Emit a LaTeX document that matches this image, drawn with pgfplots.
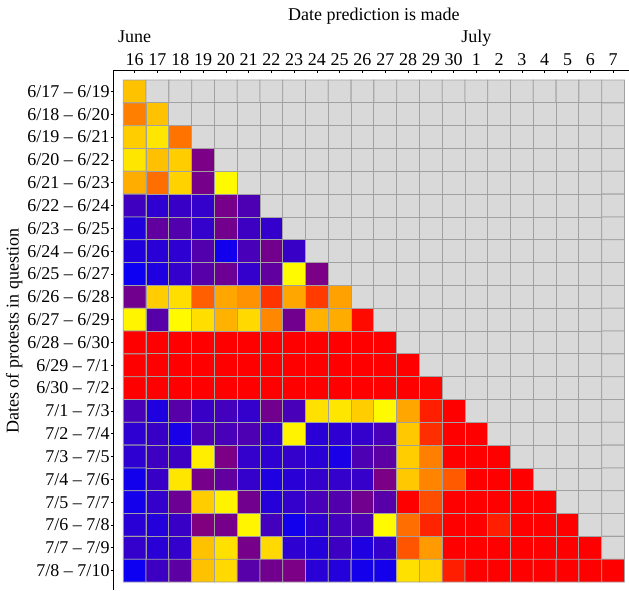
\documentclass[border=0pt]{standalone}
\usepackage{fontspec}
\setmainfont{Liberation Serif}
\usepackage{pgfplots}
\pgfplotsset{compat=1.18}
\begin{document}
\fontsize{18bp}{21bp}\selectfont
\begin{tikzpicture}
\begin{axis}[
  at={(0,0)}, anchor=south west,
  scale only axis, width=515.7bp, height=519.3bp,
  xmin=-0.94, xmax=21.7, ymin=-0.91, ymax=21.85,
  y dir=reverse,
  axis x line*=top, axis y line*=left,
  axis line style={-, line width=0.8bp, black},
  xtick={0,...,21},
  xticklabels={16,17,18,19,20,21,22,23,24,25,26,27,28,29,30,1,2,3,4,5,6,7},
  ytick={0,...,21},
  yticklabels={6/17 -- 6/19, 6/18 -- 6/20, 6/19 -- 6/21, 6/20 -- 6/22, 6/21 -- 6/23, 6/22 -- 6/24, 6/23 -- 6/25, 6/24 -- 6/26, 6/25 -- 6/27, 6/26 -- 6/28, 6/27 -- 6/29, 6/28 -- 6/30, 6/29 -- 7/1, 6/30 -- 7/2, 7/1 -- 7/3, 7/2 -- 7/4, 7/3 -- 7/5, 7/4 -- 7/6, 7/5 -- 7/7, 7/6 -- 7/8, 7/7 -- 7/9, 7/8 -- 7/10},
  tick align=inside, major tick length=2.5bp,
  tick style={black, line width=0.6bp},
  ytick style={xshift=-2.5bp},
  xticklabel style={anchor=base, inner sep=0pt, yshift=5.7bp},
  yticklabel style={anchor=east, inner sep=0pt, xshift=-3.6bp},
  clip=false,
  colormap={bry}{rgb255=(0,0,255) rgb255=(128,0,128) rgb255=(255,0,0) rgb255=(255,128,0) rgb255=(255,255,0) rgb255=(217,217,217)},
  point meta min=0, point meta max=2.5,
]
\addplot[matrix plot*, mesh/cols=22, point meta=explicit, draw=black!37, line width=0.8bp]
  table[row sep=\\, x expr={\coordindex-22*floor((\coordindex+0.5)/22)}, y expr={floor((\coordindex+0.5)/22)}, meta=c] {
c\\
1.76\\2.5\\2.5\\2.5\\2.5\\2.5\\2.5\\2.5\\2.5\\2.5\\2.5\\2.5\\2.5\\2.5\\2.5\\2.5\\2.5\\2.5\\2.5\\2.5\\2.5\\2.5\\
1.5\\1.76\\2.5\\2.5\\2.5\\2.5\\2.5\\2.5\\2.5\\2.5\\2.5\\2.5\\2.5\\2.5\\2.5\\2.5\\2.5\\2.5\\2.5\\2.5\\2.5\\2.5\\
1.8\\1.9\\1.45\\2.5\\2.5\\2.5\\2.5\\2.5\\2.5\\2.5\\2.5\\2.5\\2.5\\2.5\\2.5\\2.5\\2.5\\2.5\\2.5\\2.5\\2.5\\2.5\\
1.9\\1.75\\1.8\\0.48\\2.5\\2.5\\2.5\\2.5\\2.5\\2.5\\2.5\\2.5\\2.5\\2.5\\2.5\\2.5\\2.5\\2.5\\2.5\\2.5\\2.5\\2.5\\
1.68\\1.43\\1.82\\0.46\\1.98\\2.5\\2.5\\2.5\\2.5\\2.5\\2.5\\2.5\\2.5\\2.5\\2.5\\2.5\\2.5\\2.5\\2.5\\2.5\\2.5\\2.5\\
0.25\\0.18\\0.22\\0.2\\0.46\\0.3\\2.5\\2.5\\2.5\\2.5\\2.5\\2.5\\2.5\\2.5\\2.5\\2.5\\2.5\\2.5\\2.5\\2.5\\2.5\\2.5\\
0.13\\0.38\\0.32\\0.2\\0.45\\0.24\\0.2\\2.5\\2.5\\2.5\\2.5\\2.5\\2.5\\2.5\\2.5\\2.5\\2.5\\2.5\\2.5\\2.5\\2.5\\2.5\\
0.13\\0.16\\0.18\\0.32\\0.07\\0.28\\0.45\\0.22\\2.5\\2.5\\2.5\\2.5\\2.5\\2.5\\2.5\\2.5\\2.5\\2.5\\2.5\\2.5\\2.5\\2.5\\
0.05\\0.12\\0.2\\0.34\\0.42\\0.2\\0.38\\1.98\\0.48\\2.5\\2.5\\2.5\\2.5\\2.5\\2.5\\2.5\\2.5\\2.5\\2.5\\2.5\\2.5\\2.5\\
0.44\\1.8\\1.87\\1.37\\1.65\\1.57\\1.2\\1.65\\1.23\\1.63\\2.5\\2.5\\2.5\\2.5\\2.5\\2.5\\2.5\\2.5\\2.5\\2.5\\2.5\\2.5\\
1.96\\0.34\\1.98\\1.87\\1.7\\1.85\\1.53\\0.44\\1.7\\1.67\\1.04\\2.5\\2.5\\2.5\\2.5\\2.5\\2.5\\2.5\\2.5\\2.5\\2.5\\2.5\\
1\\1\\1\\1\\1\\1\\1\\1\\1\\1\\1\\1\\2.5\\2.5\\2.5\\2.5\\2.5\\2.5\\2.5\\2.5\\2.5\\2.5\\
1\\1\\1\\1\\1\\1\\1\\1\\1\\1\\1\\1\\1\\2.5\\2.5\\2.5\\2.5\\2.5\\2.5\\2.5\\2.5\\2.5\\
1\\1\\1\\1\\1\\1\\1\\1\\1\\1\\1\\1\\1\\1.02\\2.5\\2.5\\2.5\\2.5\\2.5\\2.5\\2.5\\2.5\\
0.28\\0.12\\0.34\\0.22\\0.26\\0.2\\0.44\\0.28\\1.88\\1.9\\1.8\\1.98\\1.65\\1.12\\1\\2.5\\2.5\\2.5\\2.5\\2.5\\2.5\\2.5\\
0.18\\0.22\\0.1\\0.3\\0.28\\0.3\\0.2\\1.95\\0.16\\0.18\\0.2\\0.28\\1.78\\1.18\\1\\1\\2.5\\2.5\\2.5\\2.5\\2.5\\2.5\\
0.18\\0.24\\0.24\\1.93\\0.48\\0.2\\0.18\\0.2\\0.16\\0.1\\0.3\\0.36\\1.8\\1.5\\1\\1\\1\\2.5\\2.5\\2.5\\2.5\\2.5\\
0.07\\0.22\\1.9\\0.46\\0.38\\0.2\\0.12\\0.16\\0.2\\0.2\\0.21\\0.48\\1.78\\1.52\\1.35\\1\\1\\1\\2.5\\2.5\\2.5\\2.5\\
0.08\\0.2\\0.42\\1.8\\1.95\\0.44\\0.15\\0.2\\0.28\\0.32\\0.44\\0.34\\1\\1.3\\1\\1\\1\\1\\1\\2.5\\2.5\\2.5\\
0.16\\0.14\\0.22\\0.5\\0.46\\1.96\\0.26\\0.07\\0.18\\0.26\\0.3\\1.98\\1.43\\1.14\\1\\1\\1.12\\1\\1\\1\\2.5\\2.5\\
0.2\\0.16\\0.2\\1.76\\1.88\\0.46\\1.85\\0.18\\0.14\\0.24\\0.12\\0.2\\1.33\\1.6\\1\\1\\1\\1\\1\\1\\1\\2.5\\
0.05\\0.24\\0.36\\1.76\\1.85\\0.34\\0.44\\0.48\\0.16\\0.14\\0.08\\0.08\\1.88\\1.82\\1.12\\1\\1\\1\\1\\1\\1\\1\\
};
\node[anchor=base] at (axis cs:10.5,-3.13) {Date prediction is made};
\node[anchor=base] at (axis cs:0,-2.165) {June};
\node[anchor=base] at (axis cs:15,-2.165) {July};
\node[rotate=90, anchor=base] at (axis cs:-5.1,10.5) {Dates of protests in question};
\end{axis}
\pgfresetboundingbox
\useasboundingbox (-113.3bp,-1bp) rectangle (515.7bp,590bp);
\end{tikzpicture}
\end{document}
